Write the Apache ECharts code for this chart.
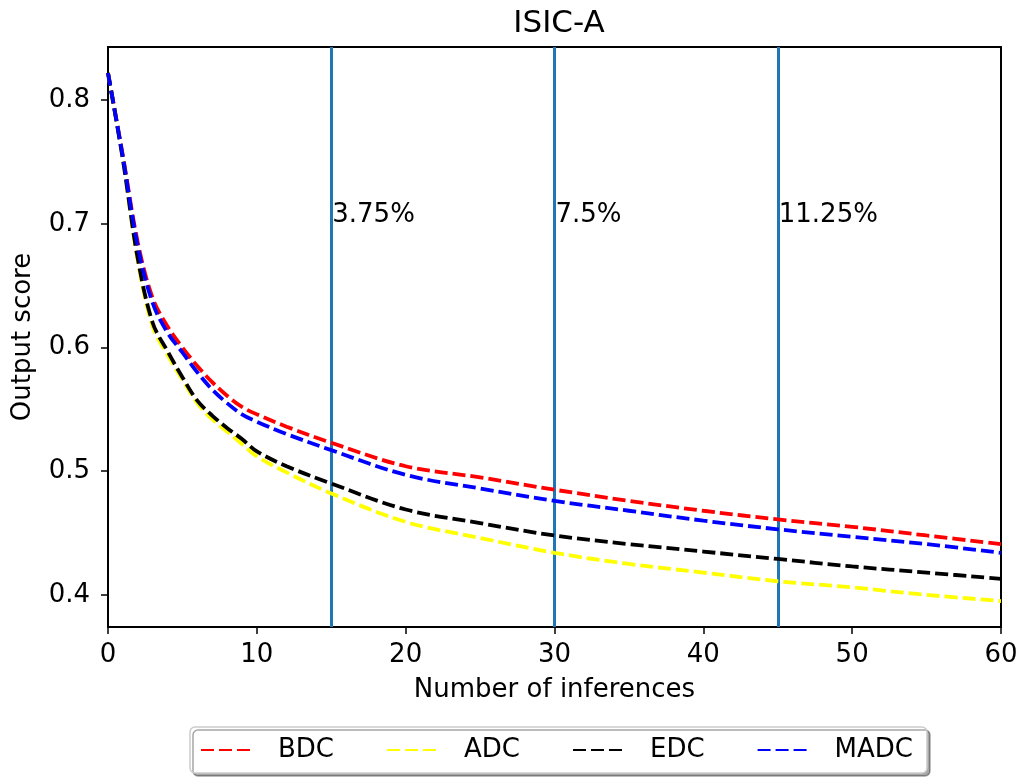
<!DOCTYPE html>
<html>
<head>
<meta charset="utf-8">
<script src="https://cdn.jsdelivr.net/npm/echarts@6/dist/echarts.min.js"></script>
<style>
html,body{margin:0;padding:0;background:#fff;}
#chart{width:1022px;height:778px;}
</style>
</head>
<body>
<div id="chart"></div>
<script>
const titleText = 'ISIC-A';
const xName = 'Number of inferences';
const yName = 'Output score';
const xValues = [0, 1, 2, 3, 4, 5, 6, 7, 8, 9, 10, 12, 15, 20, 25, 30, 35, 40, 45, 50, 55, 60];
const seriesNames = ['BDC', 'ADC', 'EDC', 'MADC'];
const bdc  = [0.822, 0.755, 0.685, 0.640, 0.617, 0.600, 0.585, 0.572, 0.561, 0.552, 0.546, 0.536, 0.523, 0.504, 0.495, 0.485, 0.476, 0.468, 0.461, 0.455, 0.448, 0.441];
const adc  = [0.822, 0.752, 0.670, 0.617, 0.594, 0.574, 0.555, 0.542, 0.532, 0.522, 0.512, 0.499, 0.482, 0.459, 0.446, 0.434, 0.425, 0.418, 0.411, 0.406, 0.400, 0.395];
const edc  = [0.822, 0.752, 0.672, 0.620, 0.597, 0.576, 0.557, 0.545, 0.535, 0.526, 0.516, 0.504, 0.490, 0.469, 0.458, 0.448, 0.441, 0.435, 0.429, 0.423, 0.418, 0.413];
const madc = [0.822, 0.754, 0.682, 0.636, 0.612, 0.596, 0.580, 0.566, 0.555, 0.546, 0.540, 0.530, 0.517, 0.497, 0.486, 0.476, 0.468, 0.460, 0.453, 0.447, 0.441, 0.434];
const seriesColors = ['#ff0000', '#ffff00', '#000000', '#0000ff'];
const vLines = [15, 30, 45];
const vLabels = ['3.75%', '7.5%', '11.25%'];
const vLabelY = 0.707;
const yTicks = [0.4, 0.5, 0.6, 0.7, 0.8];

const font = 'DejaVu Sans';
const allData = [bdc, adc, edc, madc];

const series = allData.map((vals, i) => ({
  name: seriesNames[i],
  type: 'line',
  data: xValues.map((x, j) => [x, vals[j]]),
  smooth: 0.35,
  symbol: 'none',
  showSymbol: false,
  z: 3,
  lineStyle: { color: seriesColors[i], width: 3.8, type: [13, 5] },
  itemStyle: { color: seriesColors[i] }
}));

series[0].markLine = {
  silent: true,
  symbol: 'none',
  z: 2,
  label: { show: false },
  lineStyle: { color: '#1f77b4', width: 3, type: 'solid' },
  data: vLines.map(v => ({ xAxis: v }))
};

series.push({
  name: 'vlabels',
  type: 'scatter',
  symbolSize: 0,
  silent: true,
  itemStyle: { opacity: 1 },
  data: vLines.map((v, i) => ({ value: [v, vLabelY], name: vLabels[i] })),
  label: {
    show: true,
    position: 'right',
    distance: 1,
    opacity: 1,
    formatter: p => p.name,
    color: '#000000',
    fontFamily: font,
    fontSize: 26
  }
});

const chart = echarts.init(document.getElementById('chart'), null, { renderer: 'canvas' });
chart.setOption({
  backgroundColor: '#fff',
  animation: false,
  title: {
    text: titleText,
    left: 554,
    textAlign: 'center',
    top: 3,
    textStyle: { fontFamily: font, fontSize: 31, fontWeight: 'normal', color: '#000' }
  },
  grid: {
    left: 108, right: 21, top: 47, bottom: 151,
    show: true, borderColor: '#000', borderWidth: 2, backgroundColor: 'transparent'
  },
  legend: {
    data: seriesNames,
    left: 190,
    top: 727,
    itemWidth: 53,
    itemHeight: 14,
    itemGap: 52,
    padding: [10, 14, 10, 10],
    backgroundColor: '#fff',
    borderColor: '#cccccc',
    borderWidth: 1.5,
    borderRadius: 5,
    shadowColor: 'rgba(0,0,0,0.35)',
    shadowOffsetX: 3,
    shadowOffsetY: 3,
    shadowBlur: 0,
    itemStyle: { opacity: 0 },
    textStyle: { fontFamily: font, fontSize: 26, color: '#000', padding: [0, 0, 0, 19] }
  },
  xAxis: {
    type: 'value',
    min: 0, max: 60, interval: 10,
    name: xName,
    nameLocation: 'middle',
    nameGap: 50,
    nameTextStyle: { fontFamily: font, fontSize: 26, color: '#000' },
    axisLine: { show: true, onZero: false, lineStyle: { color: '#000', width: 2 } },
    axisTick: { show: true, length: 7, lineStyle: { color: '#000', width: 1.5 } },
    axisLabel: { fontFamily: font, fontSize: 26, color: '#000', margin: 15 },
    splitLine: { show: false }
  },
  yAxis: {
    type: 'value',
    min: 0.374, max: 0.843,
    name: yName,
    nameLocation: 'middle',
    nameGap: 72,
    nameTextStyle: { fontFamily: font, fontSize: 26, color: '#000' },
    axisLine: { show: true, onZero: false, lineStyle: { color: '#000', width: 2 } },
    axisTick: { show: true, length: 7, customValues: yTicks, lineStyle: { color: '#000', width: 1.5 } },
    axisLabel: {
      fontFamily: font, fontSize: 26, color: '#000', margin: 18,
      customValues: yTicks,
      formatter: v => v.toFixed(1)
    },
    splitLine: { show: false }
  },
  series: series
});
</script>
</body>
</html>
